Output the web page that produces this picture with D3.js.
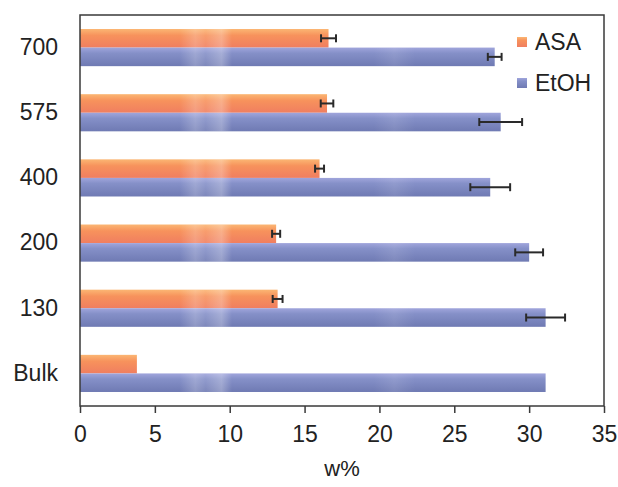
<!DOCTYPE html>
<html>
<head>
<meta charset="utf-8">
<script src="https://cdn.jsdelivr.net/npm/d3@7"></script>
<style>
  body { margin: 0; background: #fff; }
  text { font-family: "Liberation Sans", Arial, sans-serif; fill: #222; }
</style>
</head>
<body>
<div id="chart"></div>
<script>
const categories = ["700", "575", "400", "200", "130", "Bulk"];
const seriesNames = ["ASA", "EtOH"];
const asaValues = [16.6, 16.5, 16.0, 13.1, 13.2, 3.8];
const asaErrors = [0.5, 0.42, 0.3, 0.27, 0.33, 0];
const etohValues = [27.7, 28.1, 27.4, 30.0, 31.1, 31.1];
const etohErrors = [0.46, 1.43, 1.33, 0.93, 1.3, 0];
const xTicks = [0, 5, 10, 15, 20, 25, 30, 35];

const width = 618, height = 487;
const margin = { left: 80, right: 14, top: 15, bottom: 81 };
const innerWidth = width - margin.left - margin.right,
      innerHeight = height - margin.top - margin.bottom;

const data = categories.map((c, i) => ({
    cat: c,
    vals: [
        { key: "ASA", v: asaValues[i], e: asaErrors[i] },
        { key: "EtOH", v: etohValues[i], e: etohErrors[i] }
    ]
}));

const svg = d3.select("#chart").append("svg")
    .attr("width", width)
    .attr("height", height);

const defs = svg.append("defs");

// vertical shading for each series
const grads = {
    ASA: [["0%", "#fbb673"], ["35%", "#f7925c"], ["100%", "#f07e60"]],
    EtOH: [["0%", "#a0a5dc"], ["30%", "#8590c8"], ["100%", "#6f7ab3"]]
};
Object.keys(grads).forEach(k => {
    const gr = defs.append("linearGradient")
        .attr("id", "grad-" + k)
        .attr("x1", 0).attr("y1", 0).attr("x2", 0).attr("y2", 1);
    grads[k].forEach(s => gr.append("stop").attr("offset", s[0]).attr("stop-color", s[1]));
});

// light sheen at the same x on every bar
const sheen = defs.append("linearGradient")
    .attr("id", "sheen")
    .attr("gradientUnits", "userSpaceOnUse")
    .attr("x1", 0).attr("y1", 0).attr("x2", innerWidth).attr("y2", 0);
[[0, 0], [0.19, 0], [0.22, 0.22], [0.24, 0.1], [0.27, 0.28], [0.29, 0], [0.56, 0], [0.6, 0.1], [0.64, 0], [1, 0]]
    .forEach(s => sheen.append("stop").attr("offset", s[0]).attr("stop-color", "#fff").attr("stop-opacity", s[1]));

const g = svg.append("g")
    .attr("transform", "translate(" + margin.left + "," + margin.top + ")");

const x = d3.scaleLinear().domain([0, 35]).range([0, innerWidth]);
const y = d3.scaleBand().domain(categories).range([0, innerHeight])
    .paddingInner(0.43).paddingOuter(0.215);
const ySub = d3.scaleBand().domain(seriesNames).range([0, y.bandwidth()]);

const groups = g.selectAll(".group")
    .data(data)
    .enter().append("g")
    .attr("class", "group")
    .attr("transform", d => "translate(0," + y(d.cat) + ")");

const bars = groups.selectAll(".bar")
    .data(d => d.vals)
    .enter();

bars.append("rect")
    .attr("x", 0)
    .attr("y", d => ySub(d.key))
    .attr("width", d => x(d.v))
    .attr("height", ySub.bandwidth())
    .attr("fill", d => "url(#grad-" + d.key + ")");

bars.append("rect")
    .attr("x", 0)
    .attr("y", d => ySub(d.key))
    .attr("width", d => x(d.v))
    .attr("height", ySub.bandwidth())
    .attr("fill", "url(#sheen)");

// error bars
const err = groups.selectAll(".err")
    .data(d => d.vals.filter(v => v.e > 0))
    .enter().append("g")
    .attr("class", "err")
    .attr("stroke", "#2a2a2a")
    .attr("stroke-width", 2);

err.append("line")
    .attr("x1", d => x(d.v - d.e)).attr("x2", d => x(d.v + d.e))
    .attr("y1", d => ySub(d.key) + ySub.bandwidth() / 2)
    .attr("y2", d => ySub(d.key) + ySub.bandwidth() / 2);
[-1, 1].forEach(s => {
    err.append("line")
        .attr("x1", d => x(d.v + s * d.e)).attr("x2", d => x(d.v + s * d.e))
        .attr("y1", d => ySub(d.key) + ySub.bandwidth() / 2 - 4)
        .attr("y2", d => ySub(d.key) + ySub.bandwidth() / 2 + 4);
});

// frame
g.append("rect")
    .attr("width", innerWidth)
    .attr("height", innerHeight)
    .attr("fill", "none")
    .attr("stroke", "#3a3a3a")
    .attr("stroke-width", 1.5);

// x axis
const xAxis = g.append("g")
    .attr("transform", "translate(0," + innerHeight + ")")
    .call(d3.axisBottom(x).tickValues(xTicks).tickSize(7).tickPadding(13).tickFormat(d3.format("d")));
xAxis.select(".domain").remove();
xAxis.selectAll(".tick line").attr("stroke", "#3a3a3a").attr("stroke-width", 1.5);
xAxis.selectAll("text").style("font-size", "23px").attr("fill", "#222");

// y labels
const yAxis = g.append("g")
    .call(d3.axisLeft(y).tickSize(0).tickPadding(22));
yAxis.select(".domain").remove();
yAxis.selectAll("text").style("font-size", "23px").attr("fill", "#222");

g.append("text")
    .attr("x", innerWidth / 2)
    .attr("y", innerHeight + 70)
    .attr("text-anchor", "middle")
    .style("font-size", "22px")
    .text("w%");

// legend
const legend = g.append("g")
    .attr("transform", "translate(" + (innerWidth - 87) + ",22)");
seriesNames.forEach((d, i) => {
    const row = legend.append("g")
        .attr("transform", "translate(0," + (i * 41) + ")");
    row.append("rect")
        .attr("width", 10).attr("height", 10)
        .attr("fill", "url(#grad-" + d + ")");
    row.append("text")
        .attr("x", 18).attr("y", 5)
        .attr("dy", "0.35em")
        .style("font-size", "23px")
        .text(d);
});
</script>
</body>
</html>
